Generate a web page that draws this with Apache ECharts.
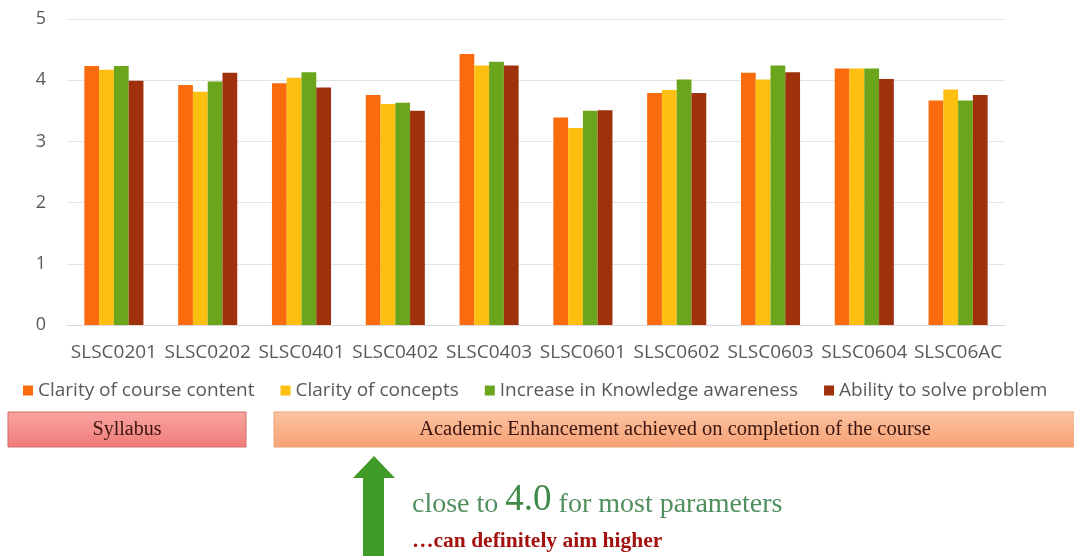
<!DOCTYPE html>
<html>
<head>
<meta charset="utf-8">
<script src="https://cdn.jsdelivr.net/npm/echarts@6/dist/echarts.min.js"></script>
<style>
html,body{margin:0;padding:0;background:#fff;}
#c{width:1074px;height:556px;}
</style>
</head>
<body>
<div id="c"></div>
<script>
const categories = ['SLSC0201','SLSC0202','SLSC0401','SLSC0402','SLSC0403','SLSC0601','SLSC0602','SLSC0603','SLSC0604','SLSC06AC'];
const seriesNames = ['Clarity of course content','Clarity of concepts','Increase in Knowledge awareness','Ability to solve problem'];
const clarityContent = [4.23, 3.92, 3.95, 3.76, 4.43, 3.39, 3.79, 4.12, 4.19, 3.67];
const clarityConcepts = [4.17, 3.81, 4.04, 3.61, 4.24, 3.22, 3.84, 4.01, 4.19, 3.85];
const knowledgeAwareness = [4.23, 3.98, 4.13, 3.63, 4.30, 3.50, 4.01, 4.24, 4.19, 3.67];
const solveProblem = [3.99, 4.12, 3.88, 3.50, 4.24, 3.51, 3.79, 4.13, 4.02, 3.76];
const yTicks = [0, 1, 2, 3, 4, 5];
const colors = ['#f96b0c', '#fdbf10', '#6ba51c', '#a0310d'];
const allValues = [clarityContent, clarityConcepts, knowledgeAwareness, solveProblem];

const chart = echarts.init(document.getElementById('c'), null, {renderer:'canvas'});
const sansFont = '"Open Sans", "Noto Sans", sans-serif';
const serifFont = '"Liberation Serif", "DejaVu Serif", serif';

const option = {
  animation: false,
  color: colors,
  grid: {left: 67, right: 69, top: 19, bottom: 231},
  legend: {
    data: seriesNames,
    left: 18, top: 376,
    itemWidth: 10, itemHeight: 10, itemGap: 26,
    icon: 'rect',
    textStyle: {fontFamily: sansFont, fontSize: 19, color: '#595959'}
  },
  xAxis: {
    type: 'category',
    data: categories,
    axisLine: {show: true, lineStyle: {color: '#d9d9d9'}},
    axisTick: {show: false},
    axisLabel: {fontFamily: sansFont, fontSize: 19, color: '#595959', margin: 18, interval: 0}
  },
  yAxis: {
    type: 'value',
    min: yTicks[0], max: yTicks[yTicks.length-1], interval: 1,
    axisLine: {show: false},
    axisTick: {show: false},
    splitLine: {lineStyle: {color: '#e3e3e3'}},
    axisLabel: {fontFamily: sansFont, fontSize: 18, color: '#595959', margin: 21}
  },
  series: seriesNames.map((n, i) => ({
    name: n, type: 'bar', data: allValues[i],
    barGap: '0%', barCategoryGap: '37%'
  })),
  graphic: [
    {type: 'rect', shape: {x: 8, y: 412, width: 238, height: 35},
      style: {fill: new echarts.graphic.LinearGradient(0,0,0,1,[{offset:0,color:'#f9a5a1'},{offset:1,color:'#ef7b78'}]), stroke: '#cf6d66', lineWidth: 1}},
    {type: 'text', x: 127, y: 430,
      style: {text: 'Syllabus', font: '20px ' + serifFont, fill: '#3b1510', textAlign: 'center', textVerticalAlign: 'middle'}},
    {type: 'rect', shape: {x: 274, y: 412, width: 810, height: 35},
      style: {fill: new echarts.graphic.LinearGradient(0,0,0,1,[{offset:0,color:'#fcc3a1'},{offset:1,color:'#f6a174'}]), stroke: '#e8a27c', lineWidth: 1}},
    {type: 'text', x: 675, y: 430,
      style: {text: 'Academic Enhancement achieved on completion of the course', font: '20.5px ' + serifFont, fill: '#3b1510', textAlign: 'center', textVerticalAlign: 'middle'}},
    {type: 'polygon', shape: {points: [[374,456],[395,478],[384,478],[384,560],[363,560],[363,478],[353,478]]},
      style: {fill: '#3f9a27'}},
    {type: 'text', left: 412, top: 482,
      style: {
        text: '{a|close to }{b|4.0}{a| for most parameters}',
        rich: {
          a: {font: '28px ' + serifFont, fill: '#4f8f5f', verticalAlign: 'bottom'},
          b: {font: '37px ' + serifFont, fill: '#3f8a48', verticalAlign: 'bottom'}
        }
      }},
    {type: 'text', left: 412, top: 530,
      style: {text: '\u2026can definitely aim higher', font: 'bold 21.5px ' + serifFont, fill: '#a3120e'}}
  ]
};
chart.setOption(option);
</script>
</body>
</html>
